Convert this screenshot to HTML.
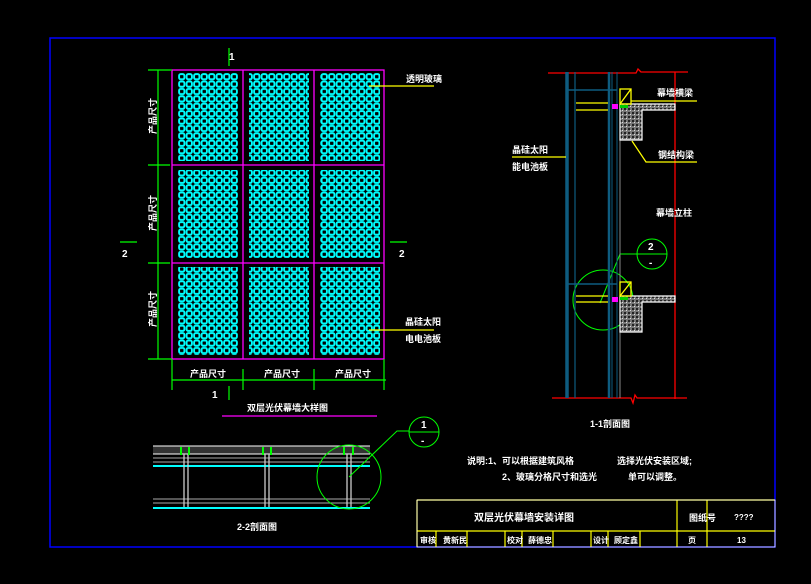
<!DOCTYPE html>
<html><head><meta charset="utf-8"><style>
html,body{margin:0;padding:0;background:#000;}
svg{display:block}
text{font-family:"Liberation Sans","Noto Sans CJK SC",sans-serif;fill:#fff;font-weight:bold}
</style></head><body>
<svg width="811" height="584" viewBox="0 0 811 584" xmlns="http://www.w3.org/2000/svg">
<defs>
<pattern id="pv" x="178" y="73" width="7.5" height="7.4" patternUnits="userSpaceOnUse">
<rect x="1.1" y="1.1" width="5.3" height="5.2" rx="1.6" fill="none" stroke="#00ffff" stroke-width="1.9"/>
</pattern>
<pattern id="conc" width="4" height="4" patternUnits="userSpaceOnUse">
<rect width="4" height="4" fill="#777"/><rect x="0" y="0" width="2" height="2" fill="#222"/><rect x="2" y="2" width="1" height="1" fill="#ddd"/>
</pattern>
</defs>
<rect width="811" height="584" fill="#000"/>
<rect x="50" y="38" width="725" height="509" fill="none" stroke="#0000ff" stroke-width="1.5"/>

<g fill="url(#pv)">
<rect x="178" y="73" width="60" height="88"/><rect x="249" y="73" width="60" height="88"/><rect x="320" y="73" width="60" height="88"/>
<rect x="178" y="170" width="60" height="88"/><rect x="249" y="170" width="60" height="88"/><rect x="320" y="170" width="60" height="88"/>
<rect x="178" y="267" width="60" height="88"/><rect x="249" y="267" width="60" height="88"/><rect x="320" y="267" width="60" height="88"/>
</g>
<g stroke="#ff00ff" stroke-width="1.3" fill="none">
<rect x="172" y="70" width="212" height="289"/>
<line x1="243" y1="70" x2="243" y2="359"/><line x1="314" y1="70" x2="314" y2="359"/>
<line x1="172" y1="165" x2="384" y2="165"/><line x1="172" y1="263" x2="384" y2="263"/>
</g>
<g stroke="#00ff00" stroke-width="1.2">
<line x1="158" y1="70" x2="158" y2="359"/>
<line x1="148" y1="70" x2="172" y2="70"/><line x1="148" y1="165" x2="170" y2="165"/><line x1="148" y1="263" x2="170" y2="263"/><line x1="148" y1="359" x2="172" y2="359"/>
<line x1="172" y1="380" x2="386" y2="380"/>
<line x1="172" y1="359" x2="172" y2="390"/><line x1="243" y1="369" x2="243" y2="390"/><line x1="314" y1="369" x2="314" y2="390"/><line x1="384" y1="359" x2="384" y2="390"/>
<line x1="229" y1="48" x2="229" y2="66"/><line x1="229" y1="386" x2="229" y2="400"/>
<line x1="120" y1="242" x2="137" y2="242"/><line x1="390" y1="242" x2="407" y2="242"/>
</g>
<text x="229" y="60" font-size="10" font-weight="normal">1</text>
<text x="212" y="398" font-size="10" font-weight="normal">1</text>
<text x="122" y="257" font-size="10" font-weight="normal">2</text>
<text x="399" y="257" font-size="10" font-weight="normal">2</text>
<g font-size="9">
<text x="190" y="377">产品尺寸</text><text x="264" y="377">产品尺寸</text><text x="335" y="377">产品尺寸</text>
<text transform="translate(156,134) rotate(-90)">产品尺寸</text>
<text transform="translate(156,231) rotate(-90)">产品尺寸</text>
<text transform="translate(156,327) rotate(-90)">产品尺寸</text>
<text x="406" y="82">透明玻璃</text>
<text x="405" y="325">晶硅太阳</text><text x="405" y="342">电电池板</text>
<text x="247" y="411">双层光伏幕墙大样图</text>
</g>
<g stroke="#ffff00" stroke-width="1.2">
<line x1="369" y1="86" x2="434" y2="86"/><line x1="369" y1="330" x2="434" y2="330"/>
</g>
<line x1="222" y1="416" x2="377" y2="416" stroke="#ff00ff" stroke-width="1.3"/>

<rect x="153" y="446" width="217" height="8" fill="#333"/>
<g stroke="#fff" stroke-width="1"><line x1="153" y1="446" x2="370" y2="446"/><line x1="153" y1="454" x2="370" y2="454"/></g>
<g stroke="#aaa" stroke-width="1"><line x1="153" y1="458" x2="370" y2="458"/><line x1="153" y1="462" x2="370" y2="462"/><line x1="153" y1="499" x2="370" y2="499"/><line x1="153" y1="503" x2="370" y2="503"/></g>
<g stroke="#00ffff" stroke-width="2"><line x1="153" y1="466" x2="370" y2="466"/><line x1="153" y1="508" x2="370" y2="508"/></g>
<g stroke="#ccc" stroke-width="1.3">
<line x1="184" y1="454" x2="184" y2="507"/><line x1="188" y1="454" x2="188" y2="507"/>
<line x1="265" y1="454" x2="265" y2="507"/><line x1="269" y1="454" x2="269" y2="507"/>
<line x1="347" y1="454" x2="347" y2="507"/><line x1="351" y1="454" x2="351" y2="507"/>
</g>
<g stroke="#00ff00" stroke-width="2">
<line x1="181" y1="447" x2="181" y2="455"/><line x1="189" y1="447" x2="189" y2="455"/>
<line x1="263" y1="447" x2="263" y2="455"/><line x1="271" y1="447" x2="271" y2="455"/>
<line x1="344" y1="447" x2="344" y2="455"/><line x1="353" y1="447" x2="353" y2="455"/>
</g>
<g stroke="#00ff00" stroke-width="1" fill="none">
<circle cx="349" cy="477" r="32"/>
<circle cx="424" cy="432" r="15"/>
<line x1="409" y1="432" x2="439" y2="432"/>
<polyline points="409,431 397,431 349,477"/>
<circle cx="652" cy="254" r="15"/>
<line x1="637" y1="254" x2="667" y2="254"/>
<polyline points="637,254 620,254 600,303"/>
<circle cx="603" cy="300" r="30"/>
</g>
<text x="421" y="428" font-size="10" font-weight="normal">1</text>
<text x="421" y="444" font-size="10" font-weight="normal">-</text>
<text x="648" y="250" font-size="10" font-weight="normal">2</text>
<text x="649" y="266" font-size="10" font-weight="normal">-</text>
<text x="237" y="530" font-size="9">2-2剖面图</text>

<g stroke="#ff0000" stroke-width="1.3" fill="none">
<polyline points="548,73 636,73 638,69 641,72 688,72"/>
<line x1="675" y1="72" x2="675" y2="399"/>
<polyline points="552,398 631,398 633,403 635,395 637,398 687,398"/>
</g>
<g stroke="#0e5c80" fill="none">
<line x1="567" y1="72" x2="567" y2="398" stroke-width="3.5"/>
<line x1="575" y1="72" x2="575" y2="398" stroke-width="1.2"/>
<line x1="609" y1="72" x2="609" y2="398" stroke-width="2.5"/>
<line x1="612" y1="72" x2="612" y2="398" stroke-width="1"/>
<line x1="617" y1="72" x2="617" y2="398" stroke-width="1"/>
<line x1="567" y1="90" x2="617" y2="90" stroke-width="1.5"/>
<line x1="567" y1="284" x2="617" y2="284" stroke-width="1.5"/>
</g>
<g stroke="#888" stroke-width="1"><line x1="620" y1="104" x2="620" y2="398"/></g>
<g stroke="#fff" stroke-width="1.2" fill="url(#conc)">
<path d="M620,104 H675 V110 H642 V140 H620 Z"/>
<path d="M620,296 H675 V302 H642 V332 H620 Z"/>
</g>
<g stroke="#ffff00" stroke-width="1.3" fill="none">
<rect x="620" y="89" width="11" height="15"/><line x1="620" y1="104" x2="631" y2="89"/>
<rect x="620" y="282" width="11" height="14"/><line x1="620" y1="296" x2="631" y2="282"/>
<line x1="576" y1="103" x2="608" y2="103"/><line x1="576" y1="110" x2="608" y2="110"/>
<line x1="576" y1="296" x2="608" y2="296"/><line x1="576" y1="302" x2="608" y2="302"/>
<line x1="631" y1="101" x2="697" y2="101"/>
<polyline points="632,141 646,162 697,162"/>
<line x1="512" y1="157" x2="566" y2="157"/>
</g>
<rect x="612" y="104" width="6" height="5" fill="#ff00ff"/><rect x="612" y="297" width="6" height="5" fill="#ff00ff"/>
<rect x="620" y="105" width="8" height="3" fill="#00cc00"/><rect x="620" y="297" width="8" height="3" fill="#00cc00"/>
<g font-size="9">
<text x="657" y="96">幕墙横梁</text>
<text x="658" y="158">钢结构梁</text>
<text x="656" y="216">幕墙立柱</text>
<text x="512" y="153">晶硅太阳</text>
<text x="512" y="170">能电池板</text>
<text x="590" y="427">1-1剖面图</text>
<text x="467" y="464">说明:1、可以根据建筑风格</text>
<text x="502" y="480">2、玻璃分格尺寸和选光</text>
<text x="617" y="464">选择光伏安装区域;</text>
<text x="628" y="480">单可以调整。</text>
</g>

<g stroke="#ffff00" stroke-width="1.2" fill="none">
<line x1="417" y1="500" x2="775" y2="500"/><line x1="417" y1="500" x2="417" y2="547"/>
<line x1="417" y1="531" x2="775" y2="531"/>
<line x1="677" y1="500" x2="677" y2="547"/><line x1="707" y1="500" x2="707" y2="547"/>
<line x1="436" y1="531" x2="436" y2="547"/><line x1="467" y1="531" x2="467" y2="547"/>
<line x1="505" y1="531" x2="505" y2="547"/><line x1="522" y1="531" x2="522" y2="547"/>
<line x1="553" y1="531" x2="553" y2="547"/>
<line x1="591" y1="531" x2="591" y2="547"/><line x1="608" y1="531" x2="608" y2="547"/>
<line x1="640" y1="531" x2="640" y2="547"/>
</g>
<rect x="417" y="500" width="358" height="47" fill="none" stroke="#fff" stroke-width="0.8"/>
<g font-size="10"><text x="474" y="521">双层光伏幕墙安装详图</text>
<text x="689" y="521" font-size="9">图纸号</text></g>
<g font-size="8" font-weight="normal"><text x="734" y="520">????</text><text x="737" y="543">13</text></g>
<g font-size="8">
<text x="420" y="543">审核</text><text x="443" y="543">黄新民</text>
<text x="507" y="543">校对</text><text x="528" y="543">薛德忠</text>
<text x="593" y="543">设计</text><text x="614" y="543">顾定鑫</text>
<text x="688" y="543">页</text>
</g>
</svg>
</body></html>
